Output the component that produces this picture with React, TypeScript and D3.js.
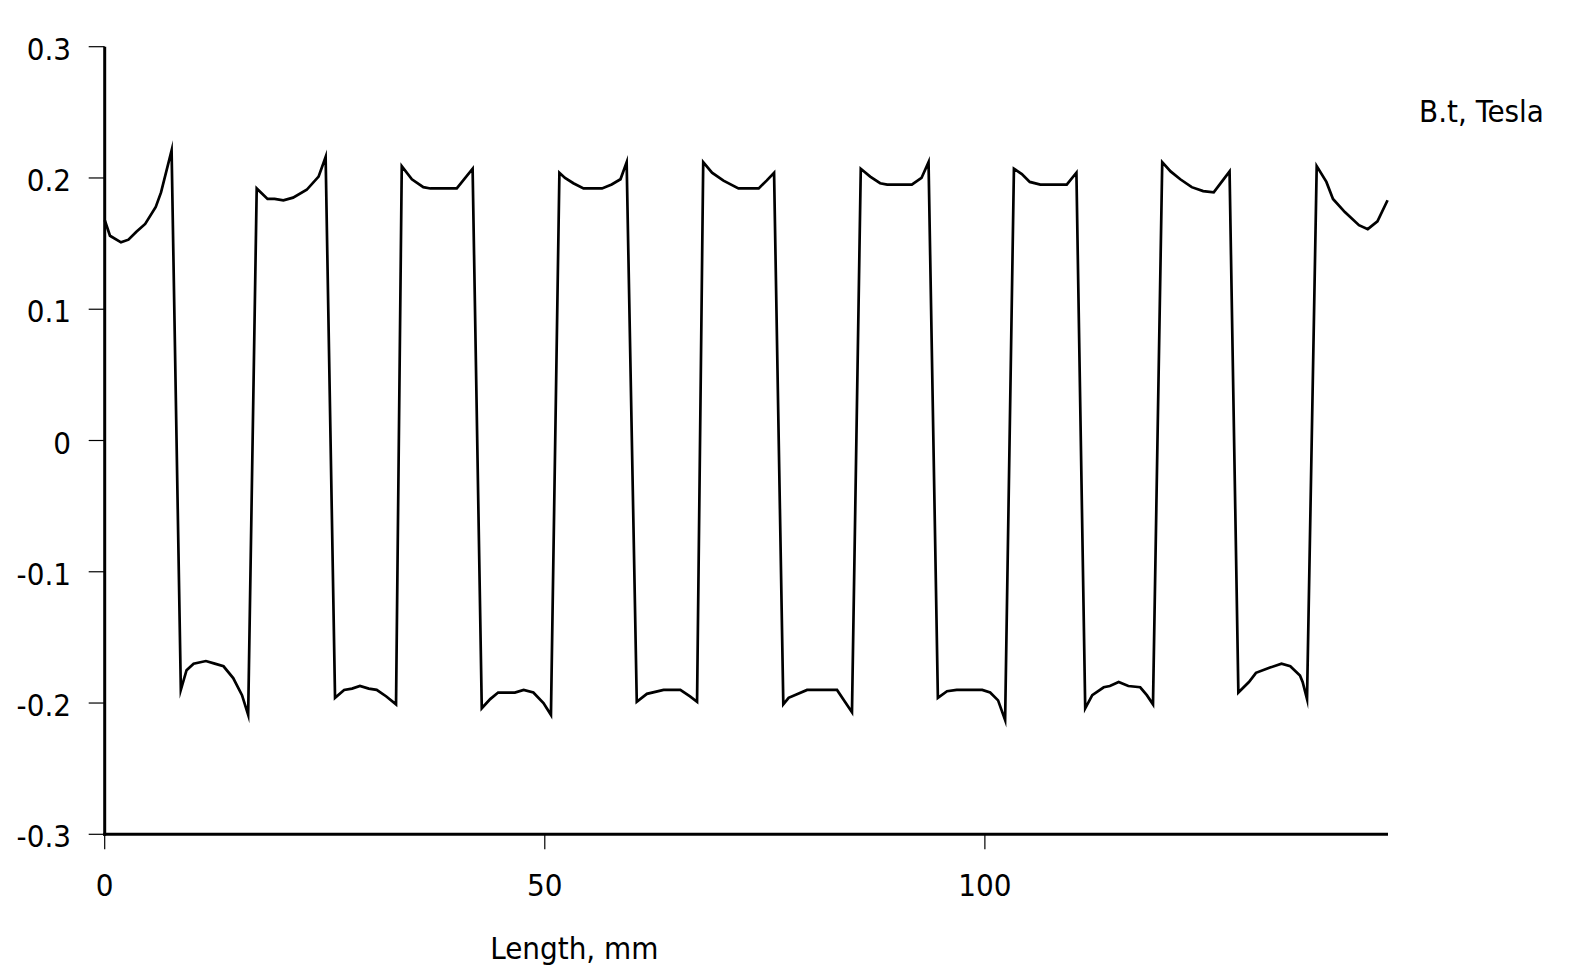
import React from "react";
import * as d3 from "d3";

const lengthMm: number[] = [
  0, 0.6, 1.85, 2.7, 3.6, 4.6, 5.8, 6.4, 7.6,
  8.65, 9.3, 10.1, 11.5, 12.5, 13.5, 14.6, 15.6, 16.3,
  17.27, 18.5, 19.3, 20.3, 21.4, 22.95, 24.3, 25.1,
  26.17, 27.2, 28.1, 29.0, 30.0, 30.9, 32.0, 33.1,
  33.75, 34.9, 36.2, 37.0, 40.0, 41.8,
  42.84, 43.8, 44.7, 46.6, 47.6, 48.7, 49.85, 50.7,
  51.66, 52.3, 53.25, 54.4, 56.5, 57.6, 58.6, 59.3,
  60.45, 61.6, 63.5, 65.4, 66.5, 67.3,
  68.0, 69.0, 70.3, 72.0, 74.3, 75.2, 76.05,
  77.1, 77.7, 79.8, 83.2, 84.1, 84.9,
  85.9, 86.97, 88.1, 88.9, 91.7, 92.8, 93.6,
  94.66, 95.7, 96.8, 99.7, 100.6, 101.5, 102.3,
  103.3, 104.2, 105.1, 106.3, 109.3, 110.4,
  111.4, 112.2, 113.5, 114.2, 115.2, 116.3, 117.65, 118.4, 119.1,
  120.15, 121.1, 122.2, 123.5, 124.8, 126.0, 126.9, 127.8,
  128.8, 130.0, 130.8, 132.4, 133.7, 134.7, 135.8, 136.1, 136.6,
  137.7, 138.8, 139.55, 140.9, 142.5, 143.5, 144.6, 145.75,
];

const bTesla: number[] = [
  0.168, 0.156, 0.151, 0.153, 0.159, 0.165, 0.178, 0.189, 0.221,
  -0.19, -0.175, -0.17, -0.168, -0.17, -0.172, -0.181, -0.194, -0.209,
  0.192, 0.184, 0.184, 0.183, 0.185, 0.191, 0.201, 0.216,
  -0.196, -0.19, -0.189, -0.187, -0.189, -0.19, -0.195, -0.201,
  0.209, 0.199, 0.193, 0.192, 0.192, 0.207,
  -0.204, -0.197, -0.192, -0.192, -0.19, -0.192, -0.2, -0.209,
  0.204, 0.2, 0.196, 0.192, 0.192, 0.195, 0.199, 0.212,
  -0.199, -0.193, -0.19, -0.19, -0.195, -0.199,
  0.212, 0.204, 0.198, 0.192, 0.192, 0.198, 0.204,
  -0.201, -0.196, -0.19, -0.19, -0.199, -0.207,
  0.207, 0.201, 0.196, 0.195, 0.195, 0.2, 0.212,
  -0.196, -0.191, -0.19, -0.19, -0.192, -0.198, -0.213,
  0.207, 0.203, 0.197, 0.195, 0.195, 0.204,
  -0.204, -0.194, -0.188, -0.187, -0.184, -0.187, -0.188, -0.194, -0.201,
  0.212, 0.205, 0.199, 0.193, 0.19, 0.189, 0.197, 0.205,
  -0.192, -0.184, -0.177, -0.173, -0.17, -0.172, -0.179, -0.184, -0.197,
  0.209, 0.197, 0.184, 0.174, 0.164, 0.161, 0.167, 0.183,
];

const yTicks: number[] = [0.3, 0.2, 0.1, 0, -0.1, -0.2, -0.3];
const yTickLabels: string[] = ["0.3", "0.2", "0.1", "0", "-0.1", "-0.2", "-0.3"];
const xTicks: number[] = [0, 50, 100];
const xTickLabels: string[] = ["0", "50", "100"];
const xTitle = "Length, mm";
const seriesName = "B.t, Tesla";

const FONT = "'DejaVu Sans', Verdana, sans-serif";

export default function App() {
  const W = 1576;
  const H = 967;
  const x = d3.scaleLinear().domain([0, 145.8]).range([104.7, 1388]);
  const y = d3.scaleLinear().domain([-0.3, 0.3]).range([834.3, 46.7]);
  const pts: [number, number][] = lengthMm.map((v, i) => [v, bTesla[i]]);
  const line = d3
    .line<[number, number]>()
    .x((d) => x(d[0]))
    .y((d) => y(d[1]))
    .curve(d3.curveLinear);
  const x0 = x(0);
  const yBottom = y(-0.3);
  const textStyle: React.CSSProperties = {
    fontFamily: FONT,
    fontStretch: "condensed",
    fontSize: 31,
    fill: "#000",
  };
  return (
    <svg
      width={W}
      height={H}
      style={{ position: "absolute", left: 0, top: 0, background: "#fff" }}
    >
      <rect x={0} y={0} width={W} height={H} fill="#fff" />
      {yTicks.map((t, i) => (
        <g key={"yt" + i}>
          <line x1={x0 - 16} x2={x0} y1={y(t)} y2={y(t)} stroke="#000" strokeWidth={1.2} />
          <text x={71} y={y(t) + 13} textAnchor="end" style={textStyle}>
            {yTickLabels[i]}
          </text>
        </g>
      ))}
      {xTicks.map((t, i) => (
        <g key={"xt" + i}>
          <line x1={x(t)} x2={x(t)} y1={yBottom} y2={yBottom + 15} stroke="#000" strokeWidth={1.2} />
          <text x={x(t)} y={895.5} textAnchor="middle" style={textStyle}>
            {xTickLabels[i]}
          </text>
        </g>
      ))}
      <line x1={x0} x2={x0} y1={y(0.3)} y2={yBottom + 1.5} stroke="#000" strokeWidth={3} />
      <line x1={x0 - 1.5} x2={x(145.8)} y1={yBottom} y2={yBottom} stroke="#000" strokeWidth={3} />
      <path d={line(pts) || ""} fill="none" stroke="#000" strokeWidth={2.7} strokeLinejoin="miter" strokeMiterlimit={10} />
      <text x={574.3} y={959} textAnchor="middle" style={textStyle}>
        {xTitle}
      </text>
      <text x={1419} y={121.7} textAnchor="start" style={textStyle}>
        {seriesName}
      </text>
    </svg>
  );
}
